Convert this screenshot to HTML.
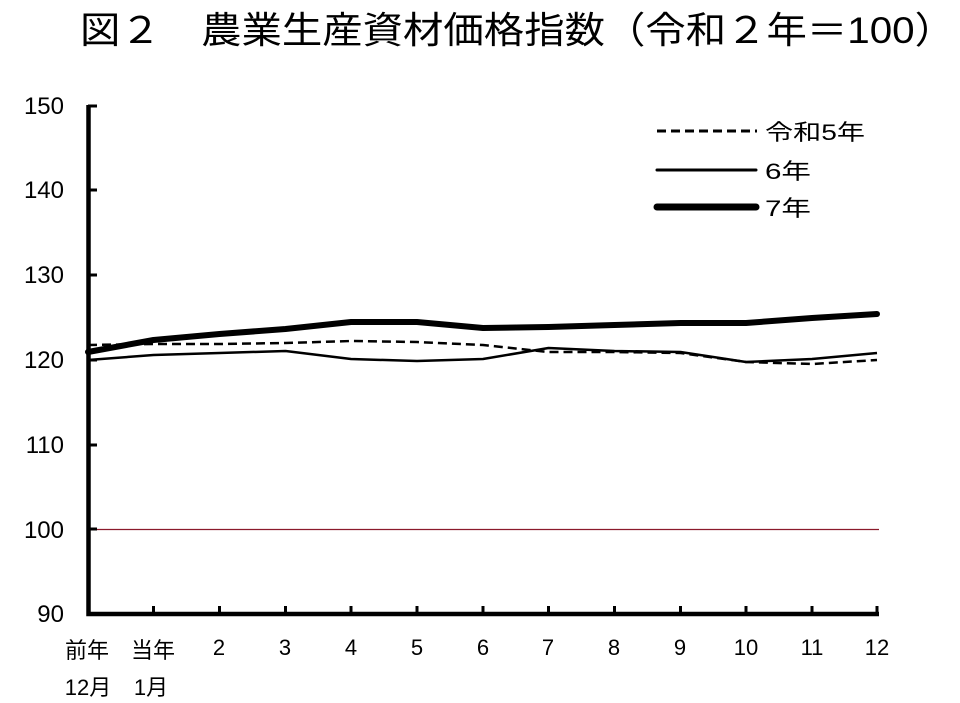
<!DOCTYPE html>
<html><head><meta charset="utf-8"><style>
html,body{margin:0;padding:0;background:#fff;}
svg{display:block;}
text{font-family:"Liberation Sans","Noto Sans CJK JP",sans-serif;fill:#000;}
</style></head><body>
<svg width="960" height="703" viewBox="0 0 960 703">
<text x="80" y="43" font-size="37" textLength="875" lengthAdjust="spacingAndGlyphs">図２　農業生産資材価格指数（令和２年＝100）</text>
<line x1="90" y1="529.5" x2="879" y2="529.5" stroke="#8b1a2b" stroke-width="1.2"/>
<path d="M88.5 105 V614 H879" fill="none" stroke="#000" stroke-width="4.5"/>
<g stroke="#000" stroke-width="3">
<line x1="88" y1="106" x2="97" y2="106"/><line x1="88" y1="190" x2="97" y2="190"/>
<line x1="88" y1="275" x2="97" y2="275"/><line x1="88" y1="360" x2="97" y2="360"/>
<line x1="88" y1="445" x2="97" y2="445"/><line x1="88" y1="529" x2="97" y2="529"/>
<line x1="153.5" y1="614" x2="153.5" y2="606"/><line x1="219.5" y1="614" x2="219.5" y2="606"/>
<line x1="285.5" y1="614" x2="285.5" y2="606"/><line x1="351" y1="614" x2="351" y2="606"/>
<line x1="417" y1="614" x2="417" y2="606"/><line x1="483" y1="614" x2="483" y2="606"/>
<line x1="548.5" y1="614" x2="548.5" y2="606"/><line x1="614.5" y1="614" x2="614.5" y2="606"/>
<line x1="680.5" y1="614" x2="680.5" y2="606"/><line x1="746" y1="614" x2="746" y2="606"/>
<line x1="812" y1="614" x2="812" y2="606"/><line x1="877" y1="614" x2="877" y2="606"/>
</g>
<g font-size="24" text-anchor="end">
<text x="64" y="114">150</text><text x="64" y="198">140</text><text x="64" y="283">130</text>
<text x="64" y="368">120</text><text x="64" y="453">110</text><text x="64" y="538">100</text>
<text x="64" y="622">90</text>
</g>
<g font-size="22" text-anchor="middle">
<text x="87" y="658">前年</text><text x="88" y="695">12月</text>
<text x="153" y="658">当年</text><text x="151" y="695">1月</text>
<text x="219" y="655">2</text><text x="285" y="655">3</text><text x="351" y="655">4</text>
<text x="417" y="655">5</text><text x="483" y="655">6</text><text x="548" y="655">7</text>
<text x="614" y="655">8</text><text x="680" y="655">9</text><text x="746" y="655">10</text>
<text x="812" y="655">11</text><text x="877" y="655">12</text>
</g>
<polyline fill="none" stroke="#000" stroke-width="2.5" stroke-dasharray="9,5" stroke-linejoin="round"
 points="88,345 153.5,344 219.5,344 285.5,343 351,341 417,342 483,345 548.5,352 614.5,352 680.5,353 746,362 812,364 877,360"/>
<polyline fill="none" stroke="#000" stroke-width="2.5" stroke-linejoin="round"
 points="88,360 153.5,355 219.5,353 285.5,351 351,359 417,361 483,359 548.5,348 614.5,351 680.5,352 746,362 812,359 877,353"/>
<polyline fill="none" stroke="#000" stroke-width="6" stroke-linejoin="round" stroke-linecap="round"
 points="88,352 153.5,340 219.5,334 285.5,329 351,322 417,322 483,328 548.5,327 614.5,325 680.5,323 746,323 812,318 877,314"/>
<line x1="657" y1="131" x2="757" y2="131" stroke="#000" stroke-width="3" stroke-dasharray="9,5"/>
<line x1="657" y1="170" x2="756" y2="170" stroke="#000" stroke-width="3" stroke-linecap="round"/>
<line x1="657" y1="207" x2="756" y2="207" stroke="#000" stroke-width="7" stroke-linecap="round"/>
<g font-size="22">
<text x="765" y="140" textLength="100" lengthAdjust="spacingAndGlyphs">令和5年</text>
<text x="765" y="179" textLength="46" lengthAdjust="spacingAndGlyphs">6年</text>
<text x="765" y="216" textLength="46" lengthAdjust="spacingAndGlyphs">7年</text>
</g>
</svg>
</body></html>
